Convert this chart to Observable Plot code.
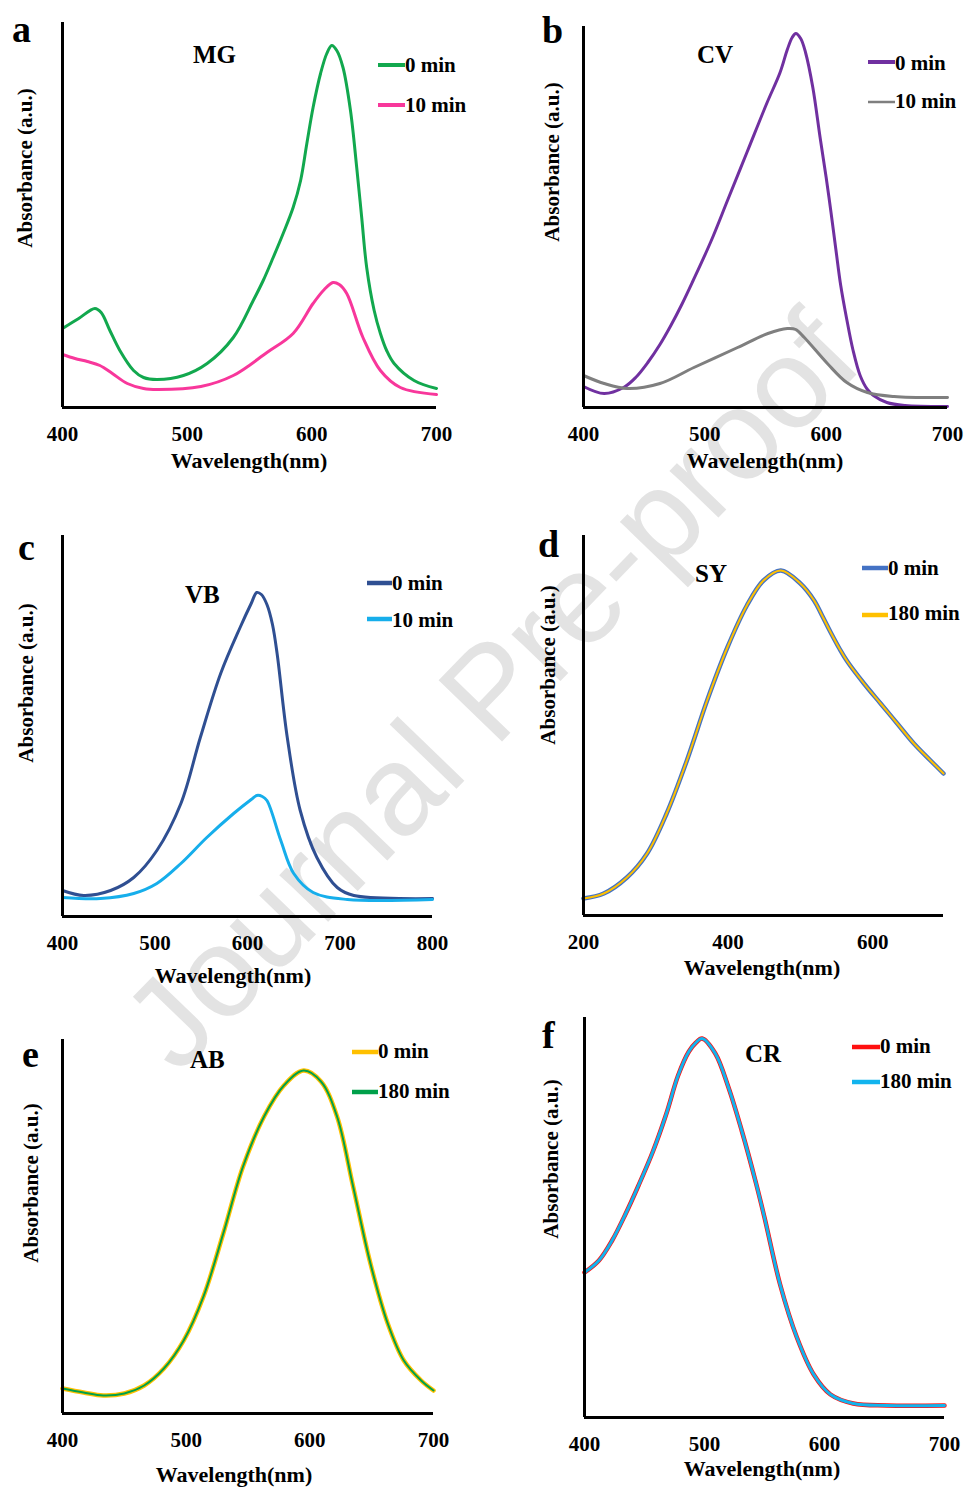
<!DOCTYPE html>
<html>
<head>
<meta charset="utf-8">
<script src="https://cdn.jsdelivr.net/npm/d3@7"></script>
<script src="https://cdn.jsdelivr.net/npm/@observablehq/plot@0.6"></script>
<style>
  html, body { margin: 0; padding: 0; background: #fff; }
  #fig { position: relative; width: 967px; height: 1488px; overflow: hidden; background: #fff; }
  #fig svg { position: absolute; }
</style>
</head>
<body>
<div id="fig"></div>
<script>
// ---------------- DATA (absorbance in a.u.) ----------------
// (a) MG
const mg0Nm  = [400, 413, 426, 431, 438, 446, 457, 465, 476, 497, 516, 537, 553, 561, 569, 577, 585, 591, 596, 601, 607, 612, 616, 620, 625, 631, 636, 640, 644, 650, 655, 660, 666, 682, 700];
const mg0Abs = [0.79, 0.89, 0.99, 0.95, 0.77, 0.57, 0.37, 0.30, 0.28, 0.32, 0.44, 0.70, 1.07, 1.27, 1.50, 1.74, 2.00, 2.27, 2.64, 3.00, 3.34, 3.54, 3.62, 3.57, 3.40, 2.97, 2.40, 1.90, 1.40, 0.97, 0.74, 0.57, 0.44, 0.27, 0.19];
const mg10Nm  = [400, 410, 420, 430, 440, 452, 465, 476, 511, 537, 564, 585, 601, 610, 617, 622, 628, 641, 655, 671, 700];
const mg10Abs = [0.53, 0.49, 0.46, 0.42, 0.34, 0.24, 0.19, 0.18, 0.21, 0.32, 0.55, 0.74, 1.04, 1.18, 1.25, 1.23, 1.14, 0.70, 0.37, 0.20, 0.13];
// (b) CV
const cv0Nm  = [400, 417, 433, 443, 453, 463, 472, 481, 490, 505, 519, 535, 551, 562, 568, 572, 575, 579, 583, 589, 595, 600, 604, 608, 612, 617, 622, 628, 634, 639, 650, 665, 700];
const cv0Abs = [0.21, 0.14, 0.20, 0.30, 0.45, 0.63, 0.82, 1.03, 1.26, 1.66, 2.08, 2.56, 3.04, 3.35, 3.58, 3.70, 3.74, 3.69, 3.55, 3.20, 2.70, 2.30, 1.95, 1.58, 1.22, 0.88, 0.58, 0.32, 0.18, 0.12, 0.05, 0.02, 0.01];
const cv10Nm  = [400, 417, 436, 463, 491, 527, 552, 568, 575, 582, 601, 617, 634, 656, 700];
const cv10Abs = [0.32, 0.24, 0.19, 0.24, 0.40, 0.60, 0.74, 0.79, 0.78, 0.70, 0.44, 0.25, 0.15, 0.11, 0.10];
// (c) VB
const vb0Nm  = [400, 423, 452, 477, 502, 528, 549, 571, 592, 604, 610, 615, 621, 627, 632, 643, 657, 675, 697, 715, 800];
const vb0Abs = [0.26, 0.21, 0.26, 0.39, 0.66, 1.13, 1.79, 2.43, 2.89, 3.13, 3.24, 3.22, 3.12, 2.92, 2.63, 1.79, 1.06, 0.59, 0.29, 0.21, 0.18];
const vb10Nm  = [400, 441, 477, 502, 528, 556, 585, 604, 610, 616, 621, 636, 650, 671, 708, 800];
const vb10Abs = [0.19, 0.18, 0.23, 0.33, 0.53, 0.79, 1.03, 1.17, 1.21, 1.20, 1.16, 0.76, 0.43, 0.24, 0.17, 0.17];
// (d) SY
const syNm     = [200, 228, 260, 288, 315, 343, 371, 399, 426, 449, 473, 500, 519, 530, 542, 554, 565, 588, 611, 634, 657, 680, 698];
const sy0Abs   = [0.17, 0.22, 0.38, 0.62, 1.02, 1.55, 2.15, 2.68, 3.10, 3.35, 3.45, 3.32, 3.15, 3.00, 2.83, 2.67, 2.54, 2.32, 2.12, 1.92, 1.72, 1.55, 1.42];
const sy180Abs = [0.17, 0.22, 0.38, 0.62, 1.02, 1.55, 2.15, 2.68, 3.10, 3.35, 3.45, 3.32, 3.15, 3.00, 2.83, 2.67, 2.54, 2.32, 2.12, 1.92, 1.72, 1.55, 1.42];
// (e) AB
const abNm     = [400, 417, 433, 450, 466, 482, 498, 514, 530, 546, 563, 579, 595, 609, 622, 635, 649, 663, 676, 690, 700];
const ab0Abs   = [0.25, 0.21, 0.18, 0.20, 0.28, 0.45, 0.73, 1.17, 1.80, 2.47, 2.97, 3.28, 3.43, 3.32, 2.97, 2.27, 1.50, 0.90, 0.53, 0.33, 0.23];
const ab180Abs = [0.25, 0.21, 0.18, 0.20, 0.28, 0.45, 0.73, 1.17, 1.80, 2.47, 2.97, 3.28, 3.43, 3.32, 2.97, 2.27, 1.50, 0.90, 0.53, 0.33, 0.23];
// (f) CR
const crNm     = [400, 412, 423, 434, 445, 457, 468, 478, 487, 493, 498, 509, 520, 531, 543, 550, 563, 577, 591, 605, 624, 652, 700];
const cr0Abs   = [1.45, 1.57, 1.77, 2.03, 2.32, 2.66, 3.03, 3.42, 3.66, 3.75, 3.79, 3.64, 3.30, 2.87, 2.34, 2.00, 1.33, 0.80, 0.43, 0.23, 0.14, 0.12, 0.12];
const cr180Abs = [1.45, 1.57, 1.77, 2.03, 2.32, 2.66, 3.03, 3.42, 3.66, 3.75, 3.79, 3.64, 3.30, 2.87, 2.34, 2.00, 1.33, 0.80, 0.43, 0.23, 0.14, 0.12, 0.12];

// tick labels
const ticks400to700 = [400, 500, 600, 700];
const ticks400to800 = [400, 500, 600, 700, 800];
const ticks200to700 = [200, 400, 600];

const seriesLabels = ["0 min", "10 min"];
const seriesLabelsLong = ["0 min", "180 min"];
const dyes = ["MG", "CV", "VB", "SY", "AB", "CR"];
const panelLetters = ["a", "b", "c", "d", "e", "f"];
const xTitle = "Wavelength(nm)";
const yTitle = "Absorbance (a.u.)";

// ---------------- helpers ----------------
const rows = (nm, abs) => nm.map((w, i) => ({nm: w, a: abs[i]}));
const FONT = "'Liberation Serif', 'Times New Roman', serif";
const fig = document.getElementById("fig");

// watermark (behind everything)
const wm = d3.select(fig).append("svg").attr("width", 967).attr("height", 1488).style("left", "0px").style("top", "0px");
wm.append("text")
  .attr("transform", "translate(490,690) rotate(-46)")
  .attr("text-anchor", "middle").attr("dominant-baseline", "central")
  .attr("font-family", "'Liberation Sans', Arial, sans-serif")
  .attr("font-size", 128).attr("fill", "#e3e3e3")
  .text("Journal Pre-proof");

function panel(p) {
  const left = p.xL - 12, top = p.yT - 6;
  const width = (p.xR - left) + 28;
  const height = (p.yB - top) + 48;
  const chart = Plot.plot({
    width, height,
    marginLeft: p.xL - left,
    marginRight: width - (p.xR - left),
    marginTop: p.yT - top,
    marginBottom: height - (p.yB - top),
    x: {domain: p.xDomain},
    y: {domain: [0, p.yMax], axis: null},
    style: {background: "transparent", fontFamily: FONT, fontSize: "21px", fontWeight: "bold", color: "black", overflow: "visible"},
    marks: [
      ...p.series.map(s => Plot.line(s.data, {x: "nm", y: "a", stroke: s.color, strokeWidth: s.width, curve: "catmull-rom"})),
      Plot.ruleX([p.xDomain[0]], {stroke: "black", strokeWidth: 3}),
      Plot.ruleY([0], {stroke: "black", strokeWidth: 3}),
      Plot.axisX({ticks: p.ticks, tickSize: 0, tickPadding: 19, tickFormat: d => String(d), label: null, fontSize: 21, fontWeight: "bold", fontFamily: FONT})
    ]
  });
  chart.style.position = "absolute";
  chart.style.left = left + "px";
  chart.style.top = top + "px";
  fig.appendChild(chart);
}

const C = {
  green: "#12A84E", pink: "#F8379B", purple: "#7030A0", gray: "#7F7F7F",
  navy: "#2F4F92", sky: "#16AEEB", blue: "#4472C4", gold: "#FFC000",
  green2: "#00A04A", red: "#FF1010", cyan: "#12B4EE"
};

panel({xL: 62, xR: 436, yT: 22, yB: 407, xDomain: [400, 700], yMax: 3.85, ticks: ticks400to700,
  series: [{data: rows(mg0Nm, mg0Abs), color: C.green, width: 3}, {data: rows(mg10Nm, mg10Abs), color: C.pink, width: 3}]});
panel({xL: 583, xR: 947, yT: 26, yB: 407, xDomain: [400, 700], yMax: 3.81, ticks: ticks400to700,
  series: [{data: rows(cv0Nm, cv0Abs), color: C.purple, width: 3}, {data: rows(cv10Nm, cv10Abs), color: C.gray, width: 3}]});
panel({xL: 62, xR: 432, yT: 535, yB: 916, xDomain: [400, 800], yMax: 3.81, ticks: ticks400to800,
  series: [{data: rows(vb0Nm, vb0Abs), color: C.navy, width: 3}, {data: rows(vb10Nm, vb10Abs), color: C.sky, width: 3}]});
panel({xL: 583, xR: 943, yT: 535, yB: 915, xDomain: [200, 698], yMax: 3.80, ticks: ticks200to700,
  series: [{data: rows(syNm, sy0Abs), color: C.blue, width: 4.5}, {data: rows(syNm, sy180Abs), color: C.gold, width: 2}]});
panel({xL: 62, xR: 433, yT: 1039, yB: 1413, xDomain: [400, 700], yMax: 3.74, ticks: ticks400to700,
  series: [{data: rows(abNm, ab0Abs), color: C.gold, width: 4.5}, {data: rows(abNm, ab180Abs), color: C.green2, width: 2}]});
panel({xL: 584, xR: 944, yT: 1017, yB: 1417, xDomain: [400, 700], yMax: 4.00, ticks: ticks400to700,
  series: [{data: rows(crNm, cr0Abs), color: C.red, width: 4.5}, {data: rows(crNm, cr180Abs), color: C.cyan, width: 3}]});

// ---------------- annotations (titles, legends, axis titles) ----------------
const ann = d3.select(fig).append("svg").attr("width", 967).attr("height", 1488)
  .style("left", "0px").style("top", "0px")
  .attr("font-family", FONT).attr("font-weight", "bold").attr("fill", "black");

const letterPos = [[12, 42], [542, 43], [18, 560], [538, 557], [22, 1067], [542, 1048]];
panelLetters.forEach((t, i) => ann.append("text").attr("x", letterPos[i][0]).attr("y", letterPos[i][1]).attr("font-size", 38).text(t));

const dyePos = [[193, 63], [697, 63], [185, 603], [695, 582], [190, 1068], [745, 1062]];
dyes.forEach((t, i) => ann.append("text").attr("x", dyePos[i][0]).attr("y", dyePos[i][1]).attr("font-size", 25).text(t));

const legends = [
  {x1: 378, x2: 405, items: [[65, 72, C.green, 4, seriesLabels[0]], [105, 112, C.pink, 4, seriesLabels[1]]]},
  {x1: 868, x2: 895, items: [[62, 70, C.purple, 4, seriesLabels[0]], [102, 108, C.gray, 2.5, seriesLabels[1]]]},
  {x1: 367, x2: 392, items: [[583, 590, C.navy, 4.5, seriesLabels[0]], [619, 627, C.sky, 4.5, seriesLabels[1]]]},
  {x1: 862, x2: 888, items: [[568, 575, C.blue, 4.5, seriesLabelsLong[0]], [615, 620, C.gold, 4.5, seriesLabelsLong[1]]]},
  {x1: 352, x2: 378, items: [[1052, 1058, C.gold, 4.5, seriesLabelsLong[0]], [1092, 1098, C.green2, 4.5, seriesLabelsLong[1]]]},
  {x1: 852, x2: 880, items: [[1047, 1053, C.red, 4.5, seriesLabelsLong[0]], [1082, 1088, C.cyan, 4.5, seriesLabelsLong[1]]]}
];
legends.forEach(L => L.items.forEach(([ly, ty, col, w, t]) => {
  ann.append("line").attr("x1", L.x1).attr("x2", L.x2).attr("y1", ly).attr("y2", ly).attr("stroke", col).attr("stroke-width", w);
  ann.append("text").attr("x", L.x2).attr("y", ty).attr("font-size", 21).text(t);
}));

const yTitlePos = [[25, 168], [552, 162], [26, 683], [548, 665], [31, 1183], [551, 1159]];
yTitlePos.forEach(([x, y]) => ann.append("text")
  .attr("transform", `translate(${x},${y}) rotate(-90)`)
  .attr("text-anchor", "middle").attr("dominant-baseline", "central")
  .attr("font-size", 21).text(yTitle));

const xTitlePos = [[249, 468], [765, 468], [233, 983], [762, 975], [234, 1482], [762, 1476]];
xTitlePos.forEach(([x, y]) => ann.append("text").attr("x", x).attr("y", y)
  .attr("text-anchor", "middle").attr("font-size", 22).text(xTitle));
</script>
</body>
</html>
